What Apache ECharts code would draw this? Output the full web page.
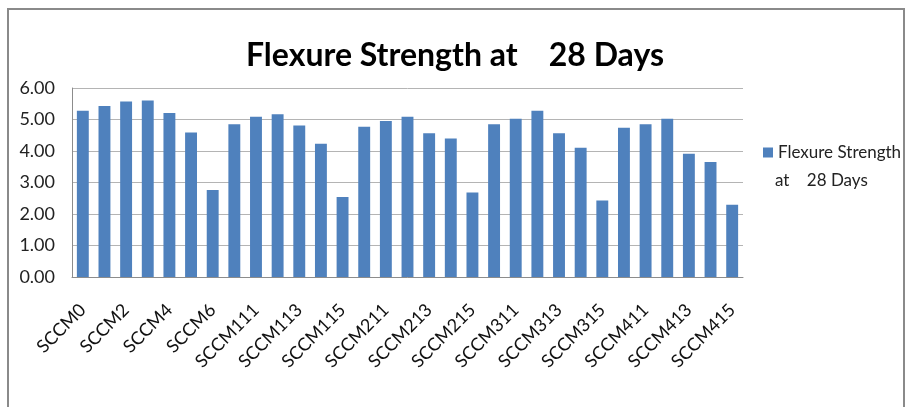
<!DOCTYPE html>
<html>
<head>
<meta charset="utf-8">
<script src="https://cdn.jsdelivr.net/npm/echarts@6/dist/echarts.min.js"></script>
<style>
  html, body { margin: 0; padding: 0; background: #fff; }
  #chart { width: 910px; height: 407px; }
</style>
</head>
<body>
<div id="chart"></div>
<script>
const categories = [
  'SCCM0', 'SCCM1', 'SCCM2', 'SCCM3', 'SCCM4', 'SCCM5', 'SCCM6',
  'SCCM110', 'SCCM111', 'SCCM112', 'SCCM113', 'SCCM114', 'SCCM115',
  'SCCM210', 'SCCM211', 'SCCM212', 'SCCM213', 'SCCM214', 'SCCM215',
  'SCCM310', 'SCCM311', 'SCCM312', 'SCCM313', 'SCCM314', 'SCCM315',
  'SCCM410', 'SCCM411', 'SCCM412', 'SCCM413', 'SCCM414', 'SCCM415'
]
const strength28 = [
  5.28, 5.43, 5.57, 5.60, 5.21, 4.59, 2.76,
  4.85, 5.09, 5.17, 4.81, 4.23, 2.54,
  4.77, 4.95, 5.09, 4.56, 4.40, 2.68,
  4.85, 5.02, 5.28, 4.56, 4.10, 2.43,
  4.74, 4.85, 5.02, 3.91, 3.65, 2.29
]
const seriesName = 'Flexure Strength'
const legendLine2 = 'at    28 Days'

const font = 'Lato, "Open Sans", sans-serif'
const chart = echarts.init(document.getElementById('chart'))

chart.setOption({
  animation: false,
  textStyle: { fontFamily: font },
  title: {
    text: 'Flexure Strength at    28 Days',
    left: 'center',
    top: 35,
    textStyle: { fontSize: 32, fontWeight: 'bold', color: '#000', fontFamily: font }
  },
  legend: {
    left: 758,
    top: 139,
    itemWidth: 10,
    itemHeight: 10,
    itemGap: 6,
    icon: 'rect',
    textStyle: { fontSize: 17, color: '#222' },
    data: [seriesName]
  },
  graphic: [
    {
      type: 'rect',
      shape: { x: 8, y: 9, width: 896, height: 420 },
      style: { fill: 'none', stroke: '#8a8a8a', lineWidth: 2 }
    },
    {
      type: 'text',
      left: 775,
      top: 172,
      style: { text: legendLine2, fontSize: 17, fill: '#222', fontFamily: font }
    }
  ],
  grid: {
    left: 72,
    right: 167,
    top: 88,
    bottom: 130
  },
  xAxis: {
    type: 'category',
    data: categories,
    axisLine: { lineStyle: { color: '#8c8c8c' } },
    axisTick: { length: 6, lineStyle: { color: '#8c8c8c' } },
    axisLabel: {
      interval: 1,
      rotate: 45,
      fontSize: 18,
      color: '#111',
      margin: 30
    }
  },
  yAxis: {
    type: 'value',
    min: 0,
    max: 6,
    interval: 1,
    axisLine: { show: true, lineStyle: { color: '#8c8c8c' } },
    axisTick: { show: false },
    splitLine: { lineStyle: { color: '#b4b4b4' } },
    axisLabel: {
      fontSize: 18,
      color: '#222',
      margin: 17,
      formatter: v => v.toFixed(2)
    }
  },
  series: [
    {
      name: seriesName,
      type: 'bar',
      data: strength28,
      barWidth: '55%',
      itemStyle: { color: '#4f81bd' }
    }
  ]
})
</script>
</body>
</html>
